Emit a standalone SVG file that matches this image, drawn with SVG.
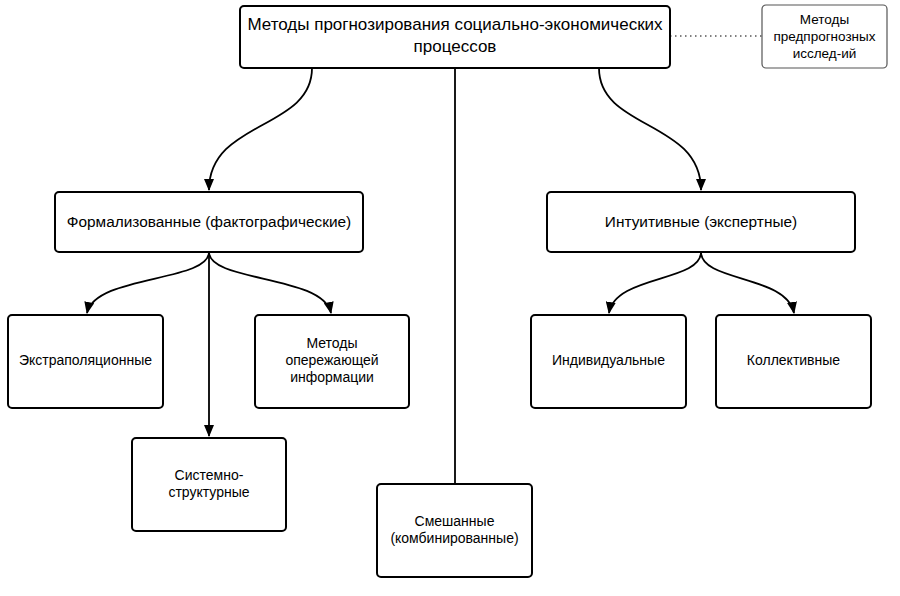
<svg xmlns="http://www.w3.org/2000/svg" width="900" height="596" viewBox="0 0 900 596">
<defs>
<marker id="ah" viewBox="0 0 12 10" refX="11" refY="5" markerWidth="12" markerHeight="10" markerUnits="userSpaceOnUse" orient="auto">
<path d="M0,0 L12,5 L0,10 z" fill="#000"/>
</marker>
<style>
.box{fill:#fff;stroke:#000;stroke-width:2}
.box2{fill:#fff;stroke:#555;stroke-width:1.2}
.t{font-family:"Liberation Sans",Arial,sans-serif;font-size:14px;fill:#000;text-anchor:middle}
.ts{font-family:"Liberation Sans",Arial,sans-serif;font-size:13.5px;fill:#000;text-anchor:middle}
.tb{font-family:"Liberation Sans",Arial,sans-serif;font-size:17px;fill:#000;text-anchor:middle}
.tm{font-family:"Liberation Sans",Arial,sans-serif;font-size:15.4px;fill:#000;text-anchor:middle}
.c{fill:none;stroke:#000;stroke-width:1.8}
</style>
</defs>
<rect width="900" height="596" fill="#fff"/>
<g id="connectors">
<path class="c" d="M312,68 C312,130 209,120 209,190" marker-end="url(#ah)"/>
<path class="c" d="M599,68 C599,130 701,120 701,190" marker-end="url(#ah)"/>
<path class="c" d="M455,68 L455,484"/>
<line x1="670" y1="36" x2="762" y2="36" stroke="#000" stroke-width="1.2" stroke-dasharray="1.5,3.5"/>
<path class="c" d="M209,252 C209,282 95,275 87,313" marker-end="url(#ah)"/>
<path class="c" d="M209,252 C209,282 323,275 331,313" marker-end="url(#ah)"/>
<path class="c" d="M209,252 L209,436" marker-end="url(#ah)"/>
<path class="c" d="M701,252 C701,282 615,275 609,313" marker-end="url(#ah)"/>
<path class="c" d="M701,252 C701,282 787,275 794,313" marker-end="url(#ah)"/>
</g>
<g id="root">
<rect class="box" x="240" y="6" width="430" height="62" rx="4"/>
<text class="tb" x="455" y="30">Методы прогнозирования социально-экономических</text>
<text class="tb" x="455" y="52">процессов</text>
</g>
<g id="pre">
<rect class="box2" x="762" y="5" width="125" height="63" rx="4"/>
<text class="ts" x="824.5" y="24">Методы</text>
<text class="ts" x="824.5" y="41">предпрогнозных</text>
<text class="ts" x="824.5" y="58">исслед-ий</text>
</g>
<g id="formal">
<rect class="box" x="55" y="192" width="308" height="60" rx="4"/>
<text class="tm" x="209" y="227">Формализованные (фактографические)</text>
</g>
<g id="intuit">
<rect class="box" x="547" y="192" width="308" height="60" rx="4"/>
<text class="tm" x="701" y="227">Интуитивные (экспертные)</text>
</g>
<g id="extra">
<rect class="box" x="8" y="315" width="155" height="93" rx="4"/>
<text class="t" x="85.5" y="365">Экстраполяционные</text>
</g>
<g id="advance">
<rect class="box" x="255" y="315" width="154" height="93" rx="4"/>
<text class="t" x="332" y="348">Методы</text>
<text class="t" x="332" y="365">опережающей</text>
<text class="t" x="332" y="382">информации</text>
</g>
<g id="system">
<rect class="box" x="132" y="438" width="154" height="93" rx="4"/>
<text class="t" x="209" y="480">Системно-</text>
<text class="t" x="209" y="497">структурные</text>
</g>
<g id="mixed">
<rect class="box" x="377" y="484" width="155" height="93" rx="4"/>
<text class="t" x="454.5" y="526">Смешанные</text>
<text class="t" x="454.5" y="543">(комбинированные)</text>
</g>
<g id="indiv">
<rect class="box" x="531" y="315" width="155" height="93" rx="4"/>
<text class="t" x="608.5" y="365">Индивидуальные</text>
</g>
<g id="collect">
<rect class="box" x="716" y="315" width="155" height="93" rx="4"/>
<text class="t" x="793.5" y="365">Коллективные</text>
</g>
</svg>
